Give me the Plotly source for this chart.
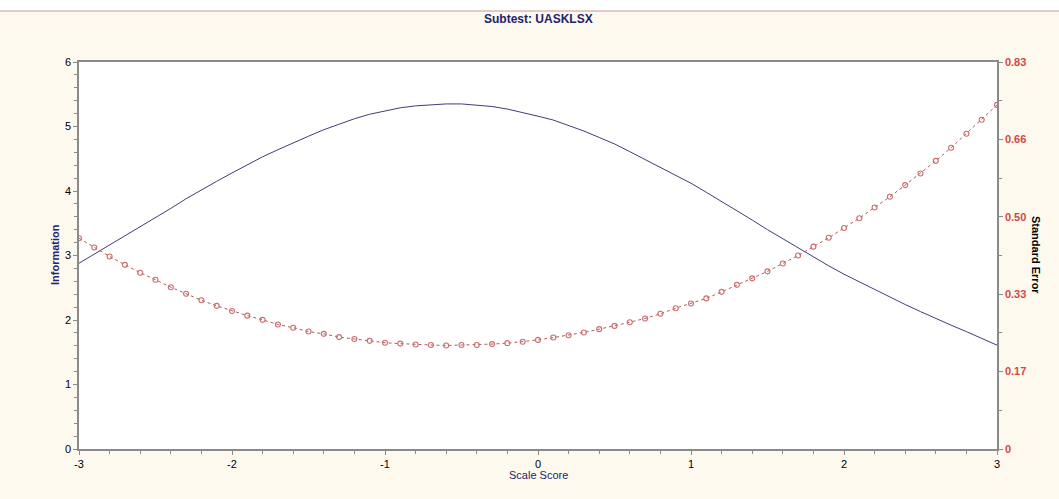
import plotly.graph_objects as go

# Scale score grid (step 0.1)
scale_score = [round(-3 + 0.1 * i, 1) for i in range(61)]

information = [
    2.88, 3.02, 3.16, 3.30, 3.44, 3.59, 3.73, 3.88, 4.02, 4.15,
    4.28, 4.41, 4.53, 4.64, 4.75, 4.85, 4.95, 5.04, 5.12, 5.19,
    5.24, 5.29, 5.32, 5.34, 5.35, 5.35, 5.33, 5.31, 5.27, 5.22,
    5.16, 5.10, 5.02, 4.93, 4.83, 4.73, 4.61, 4.49, 4.37, 4.25,
    4.12, 3.98, 3.84, 3.70, 3.55, 3.40, 3.26, 3.11, 2.97, 2.84,
    2.71, 2.59, 2.47, 2.36, 2.24, 2.13, 2.02, 1.92, 1.82, 1.71,
    1.61,
]

standard_error = [
    0.452, 0.432, 0.413, 0.395, 0.378, 0.363, 0.347, 0.333, 0.319, 0.307,
    0.296, 0.286, 0.277, 0.267, 0.260, 0.252, 0.247, 0.240, 0.236, 0.232,
    0.228, 0.226, 0.224, 0.223, 0.222, 0.223, 0.223, 0.225, 0.227, 0.230,
    0.234, 0.239, 0.244, 0.250, 0.257, 0.264, 0.272, 0.280, 0.290, 0.302,
    0.312, 0.323, 0.337, 0.352, 0.366, 0.381, 0.398, 0.415, 0.434, 0.453,
    0.474, 0.495, 0.518, 0.541, 0.566, 0.591, 0.618, 0.646, 0.676, 0.706,
    0.738,
]

x_ticks = [-3, -2, -1, 0, 1, 2, 3]
x_tick_text = ["-3", "-2", "-1", "0", "1", "2", "3"]
y_ticks = [0, 1, 2, 3, 4, 5, 6]
se_tick_vals = [0, 0.166, 0.332, 0.498, 0.664, 0.83]
se_tick_text = ["0", "0.17", "0.33", "0.50", "0.66", "0.83"]

FONT = "Liberation Sans Narrow, Arial Narrow, Liberation Sans, Arial, sans-serif"
NAVY = "#23236e"
RED = "#d04848"
AXIS = "#8a8a8a"
BG = "#fdf9ee"

fig = go.Figure()
fig.add_trace(go.Scatter(
    x=scale_score, y=information, mode="lines",
    line=dict(color="#3c3f78", width=1), name="Information",
))
fig.add_trace(go.Scatter(
    x=scale_score, y=standard_error, mode="lines+markers", yaxis="y2",
    line=dict(color="#b85858", width=1, dash="3px,3px"),
    marker=dict(symbol="circle-open", size=5, color="#c87070", line=dict(width=1.1)),
    name="Standard Error",
))

fig.update_layout(
    width=1059, height=499,
    margin=dict(l=79, r=62, t=62, b=50),
    paper_bgcolor=BG, plot_bgcolor="white",
    showlegend=False,
    font=dict(family=FONT, size=11, color="black"),
    xaxis=dict(
        range=[-3, 3], tickvals=x_ticks, ticktext=x_tick_text,
        showgrid=False, zeroline=False,
        showline=True, linecolor=AXIS, linewidth=1.5, mirror=True,
        ticks="outside", ticklen=4, tickcolor=AXIS,
        minor=dict(dtick=0.2, tick0=0, ticks="outside", ticklen=3, tickcolor=AXIS),
        tickfont=dict(family=FONT, size=11, color="black"),
    ),
    yaxis=dict(
        range=[0, 6], tickvals=y_ticks, showgrid=False, zeroline=False,
        showline=True, linecolor=AXIS, linewidth=1.5,
        ticks="outside", ticklen=4, tickcolor=AXIS,
        minor=dict(dtick=0.2, tick0=0, ticks="outside", ticklen=3, tickcolor=AXIS),
        tickfont=dict(family=FONT, size=11, color="black"),
    ),
    yaxis2=dict(
        range=[0, 0.83], overlaying="y", side="right",
        tickvals=se_tick_vals, ticktext=se_tick_text,
        showgrid=False, zeroline=False,
        showline=True, linecolor=AXIS, linewidth=1.5,
        ticks="outside", ticklen=4, tickcolor=AXIS,
        minor=dict(dtick=0.083, tick0=0, ticks="outside", ticklen=3, tickcolor=AXIS),
        tickfont=dict(family=FONT, size=11, color=RED, weight="bold"),
    ),
    shapes=[
        dict(type="rect", xref="paper", yref="paper", x0=-0.2, x1=1.2,
             y0=(449 - 11) / 387, y1=1.3, fillcolor="white",
             line=dict(width=0), layer="below"),
        dict(type="line", xref="paper", yref="paper", x0=-0.2, x1=1.2,
             y0=(449 - 11) / 387, y1=(449 - 11) / 387,
             line=dict(color="#c49c98", width=1.2)),
    ],
    annotations=[
        dict(text="<b>Subtest: UASKLSX</b>", xref="paper", yref="paper",
             x=0.5, y=(449 - 19) / 387, xanchor="center", yanchor="middle",
             showarrow=False, font=dict(family=FONT, size=12, color=NAVY)),
        dict(text="Scale Score", xref="paper", yref="paper",
             x=0.5, y=(449 - 475) / 387, xanchor="center", yanchor="middle",
             showarrow=False, font=dict(family=FONT, size=11, color=NAVY)),
        dict(text="<b>Information</b>", xref="paper", yref="paper",
             x=(55 - 79) / 918, y=(449 - 255) / 387, xanchor="center", yanchor="middle",
             textangle=-90, showarrow=False, font=dict(family=FONT, size=11, color=NAVY)),
        dict(text="<b>Standard Error</b>", xref="paper", yref="paper",
             x=(1036 - 79) / 918, y=(449 - 255) / 387, xanchor="center", yanchor="middle",
             textangle=90, showarrow=False, font=dict(family=FONT, size=11, color="black")),
    ],
)

fig.write_html(
    "out.html",
    config={"displayModeBar": False},
    post_script="document.body.style.margin='0';document.body.style.background='%s';" % BG,
)
